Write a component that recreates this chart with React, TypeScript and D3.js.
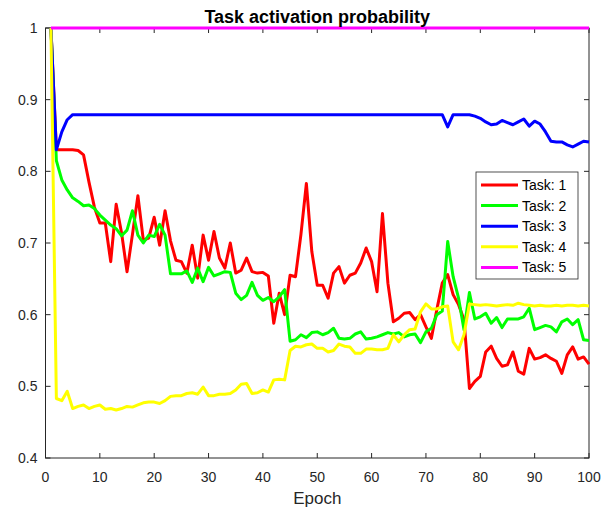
import React from "react";
import * as d3 from "d3";

const epochs: number[] = [
  1, 2, 3, 4, 5, 6, 7, 8, 9, 10, 11, 12, 13, 14, 15, 16, 17, 18, 19, 20,
  21, 22, 23, 24, 25, 26, 27, 28, 29, 30, 31, 32, 33, 34, 35, 36, 37, 38, 39, 40,
  41, 42, 43, 44, 45, 46, 47, 48, 49, 50, 51, 52, 53, 54, 55, 56, 57, 58, 59, 60,
  61, 62, 63, 64, 65, 66, 67, 68, 69, 70, 71, 72, 73, 74, 75, 76, 77, 78, 79, 80,
  81, 82, 83, 84, 85, 86, 87, 88, 89, 90, 91, 92, 93, 94, 95, 96, 97, 98, 99, 100,
];

const task1: number[] = [
  1.0, 0.83, 0.83, 0.83, 0.83, 0.829, 0.823, 0.785, 0.75, 0.728,
  0.728, 0.674, 0.754, 0.714, 0.66, 0.712, 0.766, 0.704, 0.707, 0.736,
  0.697, 0.745, 0.703, 0.676, 0.674, 0.658, 0.697, 0.651, 0.711, 0.676,
  0.716, 0.679, 0.665, 0.7, 0.658, 0.662, 0.679, 0.66, 0.658, 0.659,
  0.654, 0.588, 0.63, 0.6, 0.655, 0.653, 0.712, 0.783, 0.688, 0.641,
  0.641, 0.623, 0.658, 0.667, 0.644, 0.655, 0.658, 0.672, 0.693, 0.674,
  0.632, 0.741, 0.644, 0.59, 0.595, 0.602, 0.603, 0.593, 0.6, 0.583,
  0.567, 0.607, 0.644, 0.656, 0.628, 0.614, 0.593, 0.497, 0.507, 0.514,
  0.548, 0.556, 0.539, 0.528, 0.53, 0.548, 0.521, 0.517, 0.553, 0.538,
  0.54, 0.544, 0.539, 0.535, 0.518, 0.544, 0.555, 0.538, 0.541, 0.531,
];

const task2: number[] = [
  1.0, 0.815, 0.788, 0.774, 0.763, 0.758, 0.752, 0.753, 0.748, 0.739,
  0.732, 0.725, 0.72, 0.71, 0.718, 0.745, 0.711, 0.7, 0.711, 0.709,
  0.726, 0.711, 0.657, 0.657, 0.657, 0.661, 0.645, 0.665, 0.646, 0.666,
  0.654, 0.657, 0.66, 0.659, 0.63, 0.621, 0.627, 0.645, 0.627, 0.62,
  0.624, 0.618, 0.625, 0.635, 0.563, 0.565, 0.572, 0.568, 0.575, 0.576,
  0.572, 0.575, 0.581, 0.567, 0.566, 0.567, 0.573, 0.576, 0.566, 0.567,
  0.569, 0.572, 0.575, 0.573, 0.575, 0.569, 0.572, 0.573, 0.561, 0.576,
  0.581, 0.6, 0.605, 0.702, 0.653, 0.623, 0.579, 0.631, 0.594, 0.597,
  0.602, 0.588, 0.596, 0.582, 0.594, 0.594, 0.594, 0.597, 0.609, 0.579,
  0.582, 0.585, 0.583, 0.576, 0.59, 0.594, 0.586, 0.593, 0.565, 0.564,
];

const task3: number[] = [
  1.0, 0.83, 0.855, 0.872, 0.879, 0.879, 0.879, 0.879, 0.879, 0.879,
  0.879, 0.879, 0.879, 0.879, 0.879, 0.879, 0.879, 0.879, 0.879, 0.879,
  0.879, 0.879, 0.879, 0.879, 0.879, 0.879, 0.879, 0.879, 0.879, 0.879,
  0.879, 0.879, 0.879, 0.879, 0.879, 0.879, 0.879, 0.879, 0.879, 0.879,
  0.879, 0.879, 0.879, 0.879, 0.879, 0.879, 0.879, 0.879, 0.879, 0.879,
  0.879, 0.879, 0.879, 0.879, 0.879, 0.879, 0.879, 0.879, 0.879, 0.879,
  0.879, 0.879, 0.879, 0.879, 0.879, 0.879, 0.879, 0.879, 0.879, 0.879,
  0.879, 0.879, 0.879, 0.862, 0.879, 0.879, 0.879, 0.879, 0.877, 0.874,
  0.869, 0.865, 0.866, 0.871, 0.868, 0.865, 0.869, 0.873, 0.863, 0.87,
  0.866, 0.855, 0.842, 0.841, 0.841, 0.837, 0.834, 0.838, 0.842, 0.841,
];

const task4: number[] = [
  1.0, 0.483, 0.48, 0.493, 0.469, 0.472, 0.474, 0.469, 0.472, 0.474,
  0.468, 0.469, 0.467, 0.469, 0.472, 0.471, 0.474, 0.477, 0.478, 0.478,
  0.476, 0.48, 0.486, 0.487, 0.487, 0.49, 0.491, 0.489, 0.499, 0.487,
  0.487, 0.489, 0.489, 0.49, 0.495, 0.503, 0.504, 0.49, 0.491, 0.495,
  0.492, 0.509, 0.51, 0.509, 0.55, 0.556, 0.555, 0.558, 0.559, 0.553,
  0.553, 0.548, 0.55, 0.559, 0.556, 0.555, 0.546, 0.546, 0.552, 0.552,
  0.551, 0.551, 0.553, 0.572, 0.562, 0.572, 0.579, 0.58, 0.604, 0.615,
  0.608, 0.608, 0.611, 0.612, 0.562, 0.551, 0.572, 0.615, 0.614, 0.613,
  0.614, 0.613, 0.612, 0.613, 0.614, 0.613, 0.616, 0.614, 0.613, 0.612,
  0.613, 0.612, 0.612, 0.613, 0.612, 0.613, 0.613, 0.612, 0.613, 0.612,
];

const task5: number[] = [
  1, 1, 1, 1, 1, 1, 1, 1, 1, 1, 1, 1, 1, 1, 1, 1, 1, 1, 1, 1,
  1, 1, 1, 1, 1, 1, 1, 1, 1, 1, 1, 1, 1, 1, 1, 1, 1, 1, 1, 1,
  1, 1, 1, 1, 1, 1, 1, 1, 1, 1, 1, 1, 1, 1, 1, 1, 1, 1, 1, 1,
  1, 1, 1, 1, 1, 1, 1, 1, 1, 1, 1, 1, 1, 1, 1, 1, 1, 1, 1, 1,
  1, 1, 1, 1, 1, 1, 1, 1, 1, 1, 1, 1, 1, 1, 1, 1, 1, 1, 1, 1,
];

const seriesNames: string[] = ["Task: 1", "Task: 2", "Task: 3", "Task: 4", "Task: 5"];
const seriesColors: string[] = ["#ff0000", "#00ff00", "#0000ff", "#ffff00", "#ff00ff"];
const xTicks: number[] = [0, 10, 20, 30, 40, 50, 60, 70, 80, 90, 100];
const yTicks: number[] = [0.4, 0.5, 0.6, 0.7, 0.8, 0.9, 1];

const W = 604;
const H = 512;
const L = 45.5;
const R = 589;
const T = 28;
const B = 458;
const FONT = "'Liberation Sans', Arial, Helvetica, sans-serif";
const AX = "#262626";

export default function App() {
  const x = d3.scaleLinear().domain([0, 100]).range([L, R]);
  const y = d3.scaleLinear().domain([0.4, 1]).range([B, T]);
  const allSeries = [task1, task2, task3, task4, task5];
  const line = d3
    .line<number>()
    .x((_, i) => x(epochs[i]))
    .y((d) => y(d));

  const legX = 476;
  const legY = 172;
  const legW = 102;
  const legH = 107;
  const rowH = 20.6;

  return (
    <svg
      width={W}
      height={H}
      style={{ position: "absolute", left: 0, top: 0, background: "#fff" }}
      fontFamily={FONT}
    >
      <rect x={0} y={0} width={W} height={H} fill="#fff" />
      {xTicks.map((t) => (
        <g key={"xt" + t}>
          <line x1={x(t)} x2={x(t)} y1={B} y2={B - 5} stroke={AX} strokeWidth={1} />
          <line x1={x(t)} x2={x(t)} y1={T} y2={T + 5} stroke={AX} strokeWidth={1} />
          <text x={x(t)} y={B + 24} textAnchor="middle" fontSize={14} fill={AX}>
            {t}
          </text>
        </g>
      ))}
      {yTicks.map((t) => (
        <g key={"yt" + t}>
          <line x1={L} x2={L + 5} y1={y(t)} y2={y(t)} stroke={AX} strokeWidth={1} />
          <line x1={R} x2={R - 5} y1={y(t)} y2={y(t)} stroke={AX} strokeWidth={1} />
          <text x={L - 8} y={y(t) + 5} textAnchor="end" fontSize={14} fill={AX}>
            {t}
          </text>
        </g>
      ))}
      <rect x={L} y={T} width={R - L} height={B - T} fill="none" stroke={AX} strokeWidth={1} />
      <g>
        {allSeries.map((s, i) => (
          <path
            key={"s" + i}
            d={line(s) || ""}
            fill="none"
            stroke={seriesColors[i]}
            strokeWidth={3}
            strokeLinejoin="round"
          />
        ))}
      </g>
      <text x={(L + R) / 2} y={22.5} textAnchor="middle" fontSize={18} fontWeight="bold" fill="#000">
        Task activation probability
      </text>
      <text x={(L + R) / 2} y={504} textAnchor="middle" fontSize={17} fill={AX}>
        Epoch
      </text>
      <rect x={legX} y={legY} width={legW} height={legH} fill="#fff" stroke={AX} strokeWidth={0.8} />
      {seriesNames.map((n, i) => {
        const cy = legY + 13 + i * rowH;
        return (
          <g key={"lg" + i}>
            <line x1={legX + 5} x2={legX + 42} y1={cy} y2={cy} stroke={seriesColors[i]} strokeWidth={3} />
            <text x={legX + 46} y={cy + 5} fontSize={14} fill="#000">
              {n}
            </text>
          </g>
        );
      })}
    </svg>
  );
}
